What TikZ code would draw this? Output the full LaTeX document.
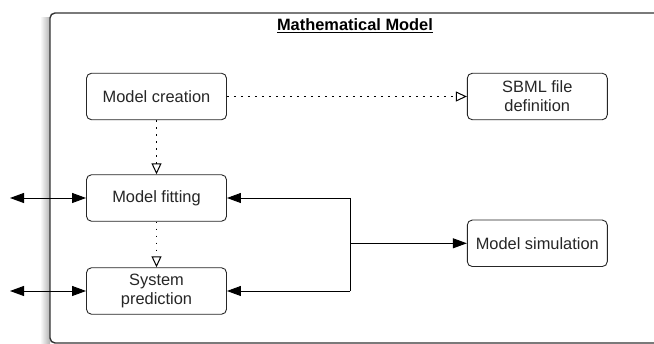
\documentclass[tikz,border=0pt]{standalone}
\usepackage{fontspec}
\setmainfont{Liberation Sans}
\usetikzlibrary{arrows.meta}
\begin{document}
\begin{tikzpicture}[x=1pt,y=-1pt,
  box/.style={draw=black!85, line width=0.9pt, rounded corners=5pt, minimum width=140pt, minimum height=46.5pt, align=center, inner sep=2pt, text=black!85, font=\fontsize{16.4}{19}\selectfont},
  dotarrow/.style={line width=1pt, dash pattern=on 1.6pt off 5.4pt, -{Triangle[open, length=11pt, width=10pt]}},
  solidarrow/.style={line width=0.9pt, -{Triangle[length=14pt, width=10pt]}},
  twoarrow/.style={line width=0.9pt, {Triangle[length=14pt, width=10pt]}-{Triangle[length=14pt, width=10pt]}},
  plainline/.style={line width=0.9pt}]
\useasboundingbox (0,0) rectangle (654,344);
\begin{scope}
\clip (0,0) rectangle (654,344);
\shade[left color=white, right color=black!30] (40,18) rectangle (50,344);
\draw[line width=1.4pt, draw=black!80, fill=white, rounded corners=5pt] (50,13) rectangle (680,343);
\end{scope}
\node (title) at (355,26) {\fontsize{16.4}{19}\selectfont\bfseries\underline{Mathematical Model}};
\node[box] (create) at (156.5,96.5) {Model creation};
\node[box] (sbml) at (537.3,96.5) {SBML file\\definition};
\node[box] (fit) at (156.5,198) {Model fitting};
\node[box] (pred) at (156.5,291) {System\\prediction};
\node[box] (sim) at (537.3,243.3) {Model simulation};
\coordinate (jt) at (350,198);
\coordinate (jb) at (350,291);
\coordinate (jm) at (350,243.3);
\coordinate (l1) at (10,198);
\coordinate (l2) at (10,291);
\draw[dotarrow] (create) -- (sbml);
\draw[dotarrow] (create) -- (fit);
\draw[dotarrow] (fit) -- (pred);
\draw[plainline] (jt) -- (jb);
\draw[solidarrow] (jt) -- (fit.east);
\draw[solidarrow] (jb) -- (pred.east);
\draw[solidarrow] (jm) -- (sim.west);
\draw[twoarrow] (l1) -- (fit.west);
\draw[twoarrow] (l2) -- (pred.west);
\end{tikzpicture}
\end{document}
